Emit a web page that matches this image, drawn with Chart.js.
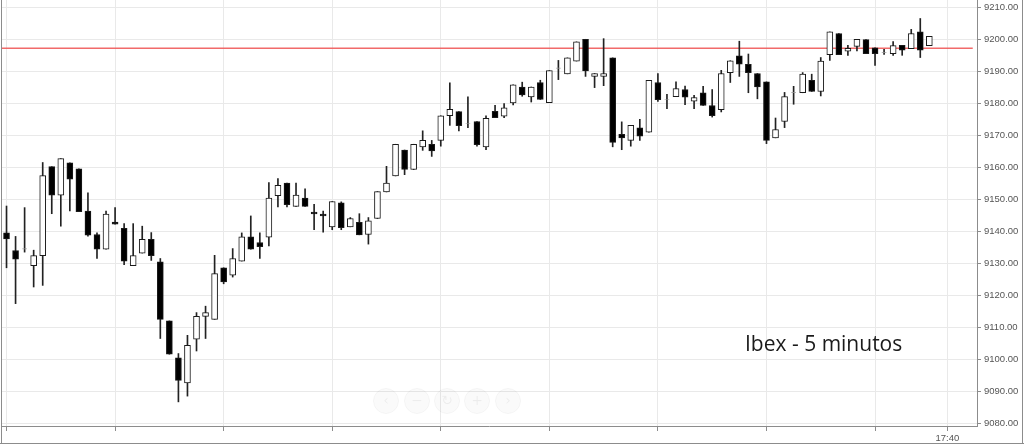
<!DOCTYPE html>
<html>
<head>
<meta charset="utf-8">
<script src="https://cdn.jsdelivr.net/npm/chart.js@4/dist/chart.umd.min.js"></script>
<style>
html,body{margin:0;padding:0;background:#fff;}
#wrap{width:1024px;height:447px;position:relative;}
</style>
</head>
<body>
<div id="wrap"><canvas id="c" width="1024" height="447"></canvas></div>
<script>
// 5-minute candles, 09:00 ... 17:30 (index 0..102)
const openVals = [9139.5,9134.0,9134.5,9129.3,9132.4,9160.2,9151.3,9161.4,9159.5,9146.3,
9139.0,9134.4,9142.9,9140.9,9129.3,9133.2,9137.5,9130.5,9112.0,9100.5,
9092.6,9106.3,9113.4,9112.5,9128.6,9126.3,9130.7,9138.3,9136.5,9138.2,
9151.1,9155.1,9147.8,9150.4,9146.0,9145.4,9141.4,9148.9,9141.4,9142.8,
9139.0,9144.0,9152.3,9157.3,9165.4,9159.3,9166.4,9167.2,9168.4,9176.1,
9177.4,9173.6,9174.3,9166.4,9177.5,9176.0,9180.1,9185.1,9182.0,9186.5,
9180.2,9191.0,9189.2,9193.2,9200.0,9188.4,9188.4,9194.2,9170.3,9168.4,
9172.3,9171.0,9186.5,9181.1,9182.1,9184.3,9180.7,9183.3,9179.3,9178.0,
9189.6,9194.8,9192.2,9189.3,9186.7,9169.2,9174.3,9183.4,9183.3,9187.2,
9183.7,9195.2,9201.8,9196.3,9197.8,9199.9,9197.3,9195.9,9195.5,9198.1,
9197.1,9202.3,9198.0];
const highVals = [9147.9,9138.4,9147.4,9134.1,9161.5,9160.2,9162.7,9161.4,9159.5,9152.0,
9139.5,9146.3,9147.4,9142.4,9142.4,9141.6,9139.6,9131.5,9112.0,9101.8,
9107.5,9114.6,9116.6,9132.5,9128.6,9134.6,9139.5,9144.8,9139.5,9155.2,
9156.5,9155.1,9155.1,9153.3,9148.4,9146.3,9149.3,9149.2,9144.3,9145.5,
9144.3,9152.4,9160.3,9167.2,9165.4,9167.2,9171.4,9168.4,9176.1,9186.4,
9177.4,9182.0,9174.3,9176.1,9179.4,9179.9,9185.8,9186.6,9185.1,9187.2,
9190.2,9193.4,9194.2,9199.2,9200.0,9189.3,9200.2,9194.2,9174.2,9173.1,
9175.0,9187.2,9189.3,9182.8,9186.7,9185.4,9182.5,9185.3,9184.3,9190.3,
9193.3,9199.4,9195.4,9189.3,9186.7,9175.4,9183.4,9185.3,9189.6,9189.1,
9194.3,9202.3,9201.8,9198.1,9200.0,9199.9,9197.3,9196.9,9199.3,9198.1,
9203.1,9206.5,9200.9];
const lowVals = [9128.6,9117.4,9133.5,9122.6,9123.1,9145.5,9141.6,9146.4,9146.1,9138.5,
9131.5,9134.4,9142.2,9129.6,9129.3,9133.2,9130.9,9106.5,9101.6,9086.7,
9088.5,9102.6,9106.5,9112.5,9123.6,9125.7,9130.7,9134.4,9131.5,9135.4,
9147.6,9147.6,9147.8,9147.8,9140.5,9139.7,9140.5,9140.5,9141.4,9138.9,
9136.0,9144.0,9152.3,9157.3,9157.7,9159.3,9165.3,9163.4,9166.6,9173.1,
9171.4,9172.4,9166.6,9165.5,9175.5,9175.5,9179.5,9182.2,9180.4,9181.2,
9180.2,9187.4,9189.2,9193.2,9188.4,9184.9,9185.5,9166.4,9165.5,9166.6,
9168.4,9171.0,9180.6,9178.3,9182.1,9179.6,9178.3,9179.3,9175.7,9177.3,
9186.5,9188.4,9183.3,9181.4,9167.4,9169.2,9172.4,9179.7,9183.3,9183.7,
9182.3,9193.4,9195.2,9195.0,9196.4,9195.5,9191.8,9195.3,9195.0,9195.0,
9197.1,9194.3,9198.0];
const closeVals = [9137.6,9131.3,9134.5,9132.4,9157.4,9151.3,9162.7,9156.3,9146.1,9138.8,
9134.4,9145.4,9142.2,9130.7,9132.4,9137.5,9132.4,9112.5,9101.6,9093.4,
9104.4,9113.4,9114.6,9126.8,9124.2,9131.5,9138.3,9134.4,9135.2,9150.4,
9154.4,9148.3,9151.3,9147.8,9145.4,9144.8,9149.3,9141.1,9144.0,9138.9,
9143.3,9152.4,9155.1,9167.2,9159.3,9167.2,9168.4,9165.1,9176.1,9178.1,
9173.0,9173.6,9167.1,9175.3,9175.5,9178.6,9185.8,9182.6,9185.1,9181.2,
9190.2,9191.0,9194.2,9199.2,9190.1,9189.3,9189.3,9167.8,9169.2,9173.1,
9169.7,9187.2,9181.1,9181.1,9184.6,9181.9,9181.8,9179.3,9176.1,9189.3,
9193.3,9192.2,9189.6,9185.1,9168.4,9171.8,9182.1,9183.4,9189.1,9183.7,
9193.2,9202.3,9195.2,9197.2,9200.0,9195.5,9195.5,9195.9,9198.0,9196.6,
9201.8,9196.6,9200.9];

const xTickValues = [0,12,24,36,48,60,72,84,96,104];
const xTickLabels = ['','','','','','','','','','17:40'];
const yTickValues = [9080,9090,9100,9110,9120,9130,9140,9150,9160,9170,9180,9190,9200,9210];
const refLevel = 9197.2;
const refSpan = [-1, 106.8];
const titleText = 'Ibex - 5 minutos';

const idx = openVals.map((_, i) => i);
const bodyData = idx.map(i => {
  const o = openVals[i], c = closeVals[i];
  if (o === c) return {x: i, y: [o - 0.15, o + 0.15]};
  return {x: i, y: [o, c]};
});
const wickData = idx.map(i => ({x: i, y: [lowVals[i], highVals[i]]}));
const bodyFill = idx.map(i => closeVals[i] > openVals[i] ? '#ffffff' : (closeVals[i] < openVals[i] ? '#000000' : '#9a9a9a'));
const bodyBorder = idx.map(i => closeVals[i] === openVals[i] ? 'rgba(0,0,0,0)' : '#1a1a1a');

const decor = {
  id: 'decor',
  beforeDatasetsDraw(chart) {
    const ctx = chart.ctx;
    const cx = [386, 417, 447, 477, 508];
    ctx.save();
    cx.forEach(x => {
      ctx.beginPath();
      ctx.arc(x, 401, 12.5, 0, Math.PI * 2);
      ctx.fillStyle = 'rgba(0,0,0,0.018)';
      ctx.fill();
      ctx.strokeStyle = 'rgba(0,0,0,0.035)';
      ctx.lineWidth = 1;
      ctx.stroke();
    });
    ctx.fillStyle = 'rgba(0,0,0,0.06)';
    ctx.font = '14px "DejaVu Sans"';
    ctx.textAlign = 'center';
    ctx.textBaseline = 'middle';
    ['\u2039', '\u2212', '\u21bb', '+', '\u203a'].forEach((s, k) => ctx.fillText(s, cx[k], 401));
    ctx.restore();
  },
  afterDraw(chart) {
    const ctx = chart.ctx;
    const a = chart.chartArea;
    ctx.save();
    ctx.fillStyle = '#ffffff';
    ctx.fillRect(a.right + 1, a.bottom, 1021 - a.right - 1, 443 - a.bottom);
    ctx.strokeStyle = '#8c8c8c';
    ctx.lineWidth = 1;
    ctx.beginPath();
    ctx.moveTo(1.5, 0); ctx.lineTo(1.5, 444);
    ctx.moveTo(0, 443.5); ctx.lineTo(1024, 443.5);
    ctx.moveTo(1022.5, 0); ctx.lineTo(1022.5, 444);
    ctx.stroke();
    ctx.fillStyle = '#1a1a1a';
    ctx.font = '21px "Open Sans"';
    ctx.textAlign = 'left';
    ctx.textBaseline = 'alphabetic';
    ctx.fillText(titleText, 745, 351);
    ctx.restore();
  }
};

function noPad(s) { s.paddingTop = 0; s.paddingBottom = 0; s.paddingLeft = 0; s.paddingRight = 0; }

new Chart(document.getElementById('c'), {
  type: 'bar',
  data: {
    datasets: [
      {
        type: 'line',
        data: refSpan.map(x => ({x: x, y: refLevel})),
        borderColor: 'rgba(240,90,90,0.9)',
        borderWidth: 1.5,
        pointRadius: 0,
        order: 3
      },
      {
        data: wickData,
        backgroundColor: '#222222',
        borderWidth: 0,
        barThickness: 1,
        grouped: false,
        order: 2
      },
      {
        data: bodyData,
        backgroundColor: bodyFill,
        borderColor: bodyBorder,
        borderWidth: 1,
        borderSkipped: false,
        barThickness: 6,
        grouped: false,
        order: 1
      }
    ]
  },
  options: {
    responsive: false,
    animation: false,
    events: [],
    layout: {padding: {left: 1, right: 0, top: 0, bottom: 0}},
    plugins: {legend: {display: false}, tooltip: {enabled: false}},
    scales: {
      x: {
        type: 'linear',
        offset: false,
        min: -0.61,
        max: 107.27,
        afterBuildTicks: ax => { ax.ticks = xTickValues.map(v => ({value: v})); },
        afterFit: s => { s.height = 21; noPad(s); },
        ticks: {
          autoSkip: false, maxRotation: 0, padding: 2,
          color: '#555', font: {family: '"Liberation Sans", Arial, sans-serif', size: 9.5},
          callback: v => { const k = xTickValues.indexOf(v); return k >= 0 ? xTickLabels[k] : ''; }
        },
        grid: {offset: false, color: '#e9e9e9', tickColor: '#8c8c8c', tickLength: 5},
        border: {color: '#8c8c8c'}
      },
      y: {
        position: 'right',
        min: 9079.16,
        max: 9212.28,
        afterBuildTicks: ax => { ax.ticks = yTickValues.map(v => ({value: v})); },
        afterFit: s => { s.width = 47; noPad(s); },
        ticks: {
          padding: 3, color: '#555',
          font: {family: '"Liberation Sans", Arial, sans-serif', size: 9.5},
          callback: v => Number(v).toFixed(2)
        },
        grid: {color: '#e9e9e9', tickColor: '#8c8c8c', tickLength: 4},
        border: {color: '#8c8c8c'}
      }
    }
  },
  plugins: [decor]
});
</script>
</body>
</html>
